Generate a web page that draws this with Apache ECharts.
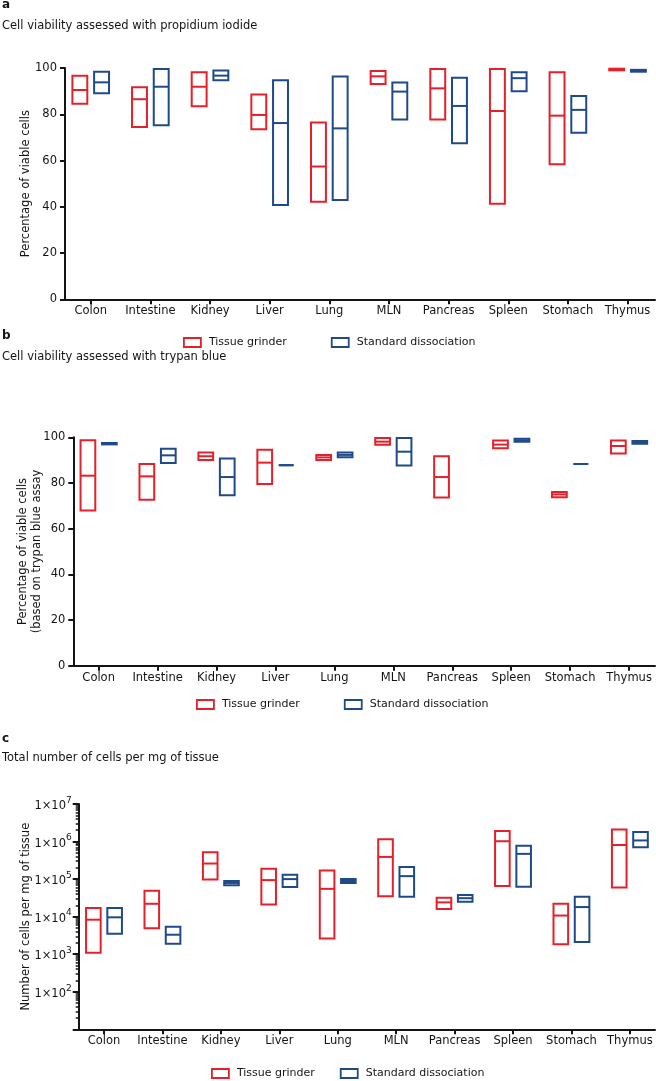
<!DOCTYPE html>
<html>
<head>
<meta charset="utf-8">
<script src="https://cdn.jsdelivr.net/npm/echarts@6/dist/echarts.min.js"></script>
<style>
html,body{margin:0;padding:0;background:#fff;}
#chart{width:656px;height:1081px;}
</style>
</head>
<body>
<div id="chart"></div>
<script>
// ---------- data ----------
const categories = ['Colon','Intestine','Kidney','Liver','Lung','MLN','Pancreas','Spleen','Stomach','Thymus'];
const seriesNames = ['Tissue grinder','Standard dissociation'];

// Panel a: propidium iodide viability (%), [min, median, max]
const piGrinder = [[84.5,90.5,96.7],[74.5,86.5,91.7],[83.5,91.9,98.2],[73.5,79.7,88.5],[42.2,57.4,76.4],
                   [93.1,96.4,98.7],[77.7,91.2,99.6],[41.3,81.4,99.6],[58.4,79.4,98.2],[99.0,99.4,99.7]];
const piStandard = [[89.1,93.8,98.4],[75.3,91.9,99.6],[94.7,96.7,98.9],[40.8,76.2,94.7],[42.9,73.9,96.3],
                    [77.7,89.8,93.7],[67.5,83.6,95.8],[89.9,95.6,98.2],[72.0,81.9,87.9],[98.4,98.9,99.2]];

// Panel b: trypan blue viability (%), [min, median, max]
const tbGrinder = [[67.9,83.2,98.7],[72.7,82.9,88.3],[90.1,91.7,93.3],[79.6,88.9,94.5],[90.1,91.2,92.3],
                   [96.7,98.1,99.7],[73.6,82.6,91.7],[95.2,96.8,98.6],[73.8,75.0,76.1],[92.9,96.2,98.6]];
const tbStandard = [[96.9,97.2,97.5],[88.8,92.1,95.0],[74.6,82.6,90.7],[87.8,87.8,87.8],[91.3,92.3,93.3],
                    [87.6,93.7,99.7],null,[98.0,98.7,99.4],[88.3,88.3,88.3],[97.2,97.8,98.4]];

// Panel c: cells per mg of tissue, [min, median, max]
const cellsGrinder = [[1.1e3,8.3e3,1.7e4],[4.9e3,2.2e4,4.9e4],[9.8e4,2.6e5,5.2e5],[2.1e4,9.4e4,1.9e5],[2.6e3,5.5e4,1.7e5],
                      [3.5e4,3.9e5,1.15e6],[1.6e4,2.4e4,3.2e4],[6.6e4,1.02e6,1.9e6],[1.85e3,1.07e4,2.2e4],[6.0e4,8.1e5,2.1e6]];
const cellsStandard = [[3.5e3,9.6e3,1.7e4],[1.9e3,3.3e3,5.4e3],[6.9e4,7.9e4,8.9e4],[6.2e4,1.0e5,1.3e5],[7.9e4,8.9e4,1.0e5],
                       [3.4e4,1.2e5,2.1e5],[2.5e4,3.1e4,3.8e4],[6.3e4,4.7e5,7.7e5],[2.1e3,1.8e4,3.4e4],[7.1e5,1.07e6,1.8e6]];

const linearTicks = [0,20,40,60,80,100];
const logDecades = [1,2,3,4,5,6,7];

// ---------- styling ----------
const RED = '#e4212a';
const BLUE = '#1f4a8a';
const INK = '#141414';
const FONT = 'DejaVu Sans';
const OFF = 0.182, BOXW = 0.25;

function toData(arr){
  const out = [];
  arr.forEach((d,i)=>{ if(d) out.push([i, d[0], d[1], d[2]]); });
  return out;
}
function boxRender(side, color){
  return function(params, api){
    const x = api.value(0) + side*OFF;
    const lo = api.coord([x, api.value(1)]);
    const md = api.coord([x, api.value(2)]);
    const hi = api.coord([x, api.value(3)]);
    const l = api.coord([x-BOXW/2, api.value(2)])[0];
    const r = api.coord([x+BOXW/2, api.value(2)])[0];
    const st = {stroke: color, fill: null, lineWidth: 2};
    return {type:'group', children:[
      {type:'rect', shape:{x:l, y:hi[1], width:r-l, height:lo[1]-hi[1]}, style:st},
      {type:'line', shape:{x1:l, y1:md[1], x2:r, y2:md[1]}, style:st}
    ]};
  };
}
function boxSeries(name, side, color, arr, idx){
  return {type:'custom', name:name, xAxisIndex:idx, yAxisIndex:idx,
    renderItem: boxRender(side, color), data: toData(arr),
    encode:{x:0, y:[1,2,3]}, itemStyle:{color:color}, silent:true, clip:false};
}
const catIdx = categories.map((c,i)=>i);
function xAxisFor(idx, min, max){
  return {type:'value', gridIndex:idx, min:min, max:max, position:'bottom',
    axisLine:{show:true, onZero:false, lineStyle:{color:INK, width:2}},
    axisTick:{show:true, customValues:catIdx, length:5, lineStyle:{color:INK, width:2}},
    axisLabel:{customValues:catIdx, formatter:(v)=>categories[Math.round(v)], color:INK,
      fontFamily:FONT, fontSize:11.5, margin:6, hideOverlap:false},
    splitLine:{show:false}};
}
function yLinear(idx, name, gap){
  return {type:'value', gridIndex:idx, min:0, max:100, interval:20, position:'left',
    name:name, nameLocation:'middle', nameGap:gap, nameRotate:90, nameMoveOverlap:false,
    nameTextStyle:{fontFamily:FONT, fontSize:11.5, color:INK, lineHeight:14},
    axisLine:{show:true, onZero:false, lineStyle:{color:INK, width:2}},
    axisTick:{show:true, length:5, lineStyle:{color:INK, width:2}},
    axisLabel:{color:INK, fontFamily:FONT, fontSize:11.5, margin:8, customValues:linearTicks},
    splitLine:{show:false}};
}
const majorLog = logDecades.map(e=>Math.pow(10,e));
const minorLog = [];
logDecades.slice(0,-1).forEach(e=>{ for(let k=2;k<=9;k++) minorLog.push(k*Math.pow(10,e)); });

function legendFor(left, top, gap){
  return {left:left, top:top, itemWidth:17, itemHeight:9, itemGap:gap, icon:'rect', selectedMode:false,
    textStyle:{fontFamily:FONT, fontSize:11, color:INK, padding:[0,0,0,3]},
    data:[{name:seriesNames[0], itemStyle:{color:'#fff', borderColor:RED, borderWidth:1.8}},
          {name:seriesNames[1], itemStyle:{color:'#fff', borderColor:BLUE, borderWidth:1.8}}]};
}
function ttl(text, left, top, bold){
  return {text:text, left:left, top:top, padding:0,
    textStyle:{fontFamily:FONT, fontSize:bold?12:11.5, fontWeight:bold?'bold':'normal', color:INK, lineHeight:14}};
}

const option = {
  animation:false,
  backgroundColor:'#fff',
  title:[
    ttl('a', 2, -2, true),
    ttl('Cell viability assessed with propidium iodide', 2, 19, false),
    ttl('b', 2, 329, true),
    ttl('Cell viability assessed with trypan blue', 2, 350, false),
    ttl('c', 2, 732, true),
    ttl('Total number of cells per mg of tissue', 2, 751, false)
  ],
  legend:[ legendFor(178, 332, 44), legendFor(191, 694, 44), legendFor(206, 1063, 25) ],
  grid:[
    {left:65, top:68, width:590, height:231.3, containLabel:false, outerBoundsMode:'none'},
    {left:73.3, top:437.3, width:581.7, height:228.4, containLabel:false, outerBoundsMode:'none'},
    {left:78.7, top:804, width:576.3, height:225.3, containLabel:false, outerBoundsMode:'none'}
  ],
  xAxis:[ xAxisFor(0,-0.431,9.46), xAxisFor(1,-0.43,9.44), xAxisFor(2,-0.433,9.43) ],
  yAxis:[
    yLinear(0,'Percentage of viable cells',32),
    yLinear(1,'Percentage of viable cells\n(based on trypan blue assay',29),
    {type:'log', gridIndex:2, min:10, max:1e7, logBase:10, position:'left',
      name:'Number of cells per mg of tissue', nameLocation:'middle', nameGap:46, nameRotate:90, nameMoveOverlap:false,
      nameTextStyle:{fontFamily:FONT, fontSize:11.5, color:INK, lineHeight:14},
      axisLine:{show:true, onZero:false, lineStyle:{color:INK, width:2}},
      axisTick:{show:true, length:6, customValues:majorLog, lineStyle:{color:INK, width:2}},
      axisLabel:{customValues:majorLog, margin:7, color:INK, fontFamily:FONT,
        formatter:(v)=>{ const e=Math.round(Math.log10(v)); return e<2 ? '' : '{b|1×10}{s|'+e+'}'; },
        rich:{b:{fontFamily:FONT, fontSize:11.5, color:INK, lineHeight:16, verticalAlign:'bottom'},
              s:{fontFamily:FONT, fontSize:9, color:INK, lineHeight:16, verticalAlign:'top'}}},
      splitLine:{show:false}},
    {type:'log', gridIndex:2, min:10, max:1e7, logBase:10, position:'left', offset:0,
      axisLine:{show:false, onZero:false}, axisLabel:{show:false}, splitLine:{show:false},
      axisTick:{show:true, length:3, customValues:minorLog, lineStyle:{color:INK, width:1.5}}}
  ],
  series:[
    boxSeries(seriesNames[0], -1, RED, piGrinder, 0),
    boxSeries(seriesNames[1], 1, BLUE, piStandard, 0),
    boxSeries(seriesNames[0], -1, RED, tbGrinder, 1),
    boxSeries(seriesNames[1], 1, BLUE, tbStandard, 1),
    boxSeries(seriesNames[0], -1, RED, cellsGrinder, 2),
    boxSeries(seriesNames[1], 1, BLUE, cellsStandard, 2)
  ]
};
const chart = echarts.init(document.getElementById('chart'), null, {renderer:'canvas'});
chart.setOption(option);
</script>
</body>
</html>
